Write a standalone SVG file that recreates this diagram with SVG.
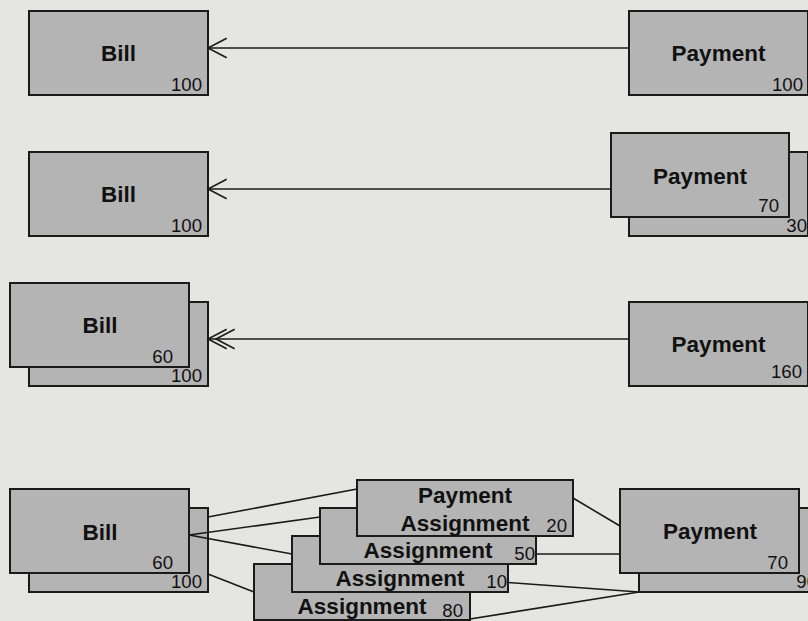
<svg xmlns="http://www.w3.org/2000/svg" width="808" height="621" viewBox="0 0 808 621">
  <style>
    .box { fill: #b4b4b4; stroke: #1a1a1a; stroke-width: 2; }
    .name { font-family: "Liberation Sans", Arial, sans-serif; font-weight: bold; font-size: 22.5px; fill: #111; text-anchor: middle; }
    .amt { font-family: "Liberation Sans", Arial, sans-serif; font-size: 18.6px; fill: #111; text-anchor: end; }
    .link { fill: none; stroke: #1a1a1a; stroke-width: 1.6; }
  </style>
  <defs>
    <marker id="open-arrow" markerUnits="userSpaceOnUse" orient="auto" refX="0" refY="0" markerWidth="40" markerHeight="40" viewBox="-30 -20 40 40" overflow="visible">
      <path d="M -18.7 -9.7 L 0 0 L -18.7 9.7" fill="none" stroke="#1a1a1a" stroke-width="1.6"/>
    </marker>
    <marker id="double-arrow" markerUnits="userSpaceOnUse" orient="auto" refX="0" refY="0" markerWidth="40" markerHeight="40" viewBox="-30 -20 40 40" overflow="visible">
      <path d="M -18.7 -9.7 L 0 0 L -18.7 9.7 M -26.7 -9.7 L -8 0 L -26.7 9.7" fill="none" stroke="#1a1a1a" stroke-width="1.6"/>
    </marker>
  </defs>

  <rect width="808" height="621" fill="#e5e5e3"/>

  <!-- Row 1: one bill, one payment -->
  <g id="bill-1">
    <rect class="box" x="29" y="11" width="179" height="84"/>
    <text class="name" x="118.5" y="61">Bill</text>
    <text class="amt" x="202" y="91">100</text>
  </g>
  <g id="payment-1">
    <rect class="box" x="629" y="11" width="179" height="84"/>
    <text class="name" x="718.5" y="61">Payment</text>
    <text class="amt" x="803" y="91">100</text>
  </g>

  <!-- Row 2: one bill, split payment -->
  <g id="bill-2">
    <rect class="box" x="29" y="152" width="179" height="84"/>
    <text class="name" x="118.5" y="202">Bill</text>
    <text class="amt" x="202" y="232">100</text>
  </g>
  <g id="payment-2b">
    <rect class="box" x="629" y="152" width="179" height="84"/>
    <text class="amt" x="807" y="232">30</text>
  </g>
  <g id="payment-2a">
    <rect class="box" x="611" y="133" width="178" height="84"/>
    <text class="name" x="700" y="184">Payment</text>
    <text class="amt" x="779" y="212">70</text>
  </g>

  <!-- Row 3: split bill, one payment -->
  <g id="bill-3b">
    <rect class="box" x="29" y="302" width="179" height="84"/>
    <text class="amt" x="202" y="382">100</text>
  </g>
  <g id="bill-3a">
    <rect class="box" x="10" y="283" width="179" height="84"/>
    <text class="name" x="100" y="333">Bill</text>
    <text class="amt" x="173" y="363">60</text>
  </g>
  <g id="payment-3">
    <rect class="box" x="629" y="302" width="179" height="84"/>
    <text class="name" x="718.5" y="352">Payment</text>
    <text class="amt" x="802" y="378">160</text>
  </g>

  <!-- Row 4: bills and payments joined through assignments -->
  <g id="bill-4b">
    <rect class="box" x="29" y="508" width="179" height="84"/>
    <text class="amt" x="202" y="588">100</text>
  </g>
  <g id="bill-4a">
    <rect class="box" x="10" y="489" width="179" height="84"/>
    <text class="name" x="100" y="540">Bill</text>
    <text class="amt" x="173" y="569">60</text>
  </g>
  <g id="assignment-80">
    <rect class="box" x="254" y="564" width="216" height="56"/>
    <text class="name" x="362" y="614">Assignment</text>
    <text class="amt" x="463" y="617">80</text>
  </g>
  <g id="assignment-10">
    <rect class="box" x="292" y="536" width="216" height="56"/>
    <text class="name" x="400" y="586">Assignment</text>
    <text class="amt" x="507" y="588">10</text>
  </g>
  <g id="assignment-50">
    <rect class="box" x="320" y="508" width="216" height="56"/>
    <text class="name" x="428" y="558">Assignment</text>
    <text class="amt" x="535" y="560">50</text>
  </g>
  <g id="assignment-20">
    <rect class="box" x="357" y="480" width="216" height="56"/>
    <text class="name" x="465" y="503">Payment</text>
    <text class="name" x="465" y="531">Assignment</text>
    <text class="amt" x="567" y="532">20</text>
  </g>
  <g id="payment-4b">
    <rect class="box" x="639" y="508" width="179" height="84"/>
    <text class="amt" x="817" y="588">90</text>
  </g>
  <g id="payment-4a">
    <rect class="box" x="620" y="489" width="179" height="84"/>
    <text class="name" x="710" y="539">Payment</text>
    <text class="amt" x="788" y="569">70</text>
  </g>

  <g id="connectors">
    <line class="link" x1="629" y1="48" x2="208" y2="48" marker-end="url(#open-arrow)"/>
    <line class="link" x1="611" y1="189" x2="208" y2="189" marker-end="url(#open-arrow)"/>
    <line class="link" x1="629" y1="339" x2="208" y2="339" marker-end="url(#double-arrow)"/>

    <line class="link" x1="208" y1="517" x2="357" y2="489"/>
    <line class="link" x1="189" y1="535" x2="320" y2="517"/>
    <line class="link" x1="189" y1="535" x2="292" y2="554"/>
    <line class="link" x1="208" y1="574" x2="254" y2="592"/>

    <line class="link" x1="573" y1="498" x2="620" y2="526"/>
    <line class="link" x1="536" y1="554" x2="620" y2="554"/>
    <line class="link" x1="507" y1="582.5" x2="639" y2="592"/>
    <line class="link" x1="470" y1="619" x2="639" y2="592"/>
  </g>
</svg>
